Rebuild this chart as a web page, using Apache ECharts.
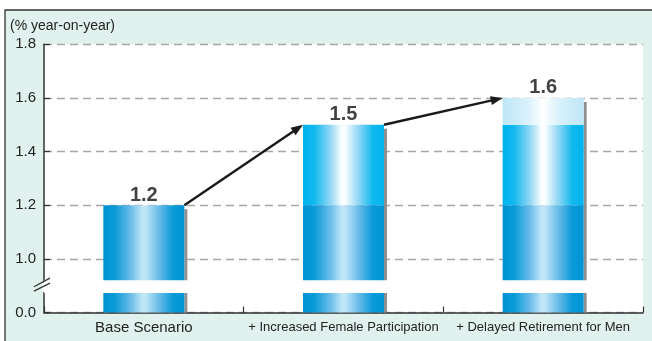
<!DOCTYPE html>
<html>
<head>
<meta charset="utf-8">
<script src="https://cdn.jsdelivr.net/npm/echarts@6/dist/echarts.min.js"></script>
<style>
  html, body { margin: 0; padding: 0; background: #fff; }
  #chart { width: 652px; height: 341px; }
</style>
</head>
<body>
<div id="chart"></div>
<script>
// Potential growth under three labour-supply scenarios (% year-on-year)
const categories = ['Base Scenario', '+ Increased Female Participation', '+ Delayed Retirement for Men'];
const totals = [1.2, 1.5, 1.6];
// stacked pieces: base growth, added by female participation, added by later retirement
const baseSegment = [1.2, 1.2, 1.2];
const femaleSegment = [null, 0.3, 0.3];
const retirementSegment = [null, null, 0.1];
// the axis is broken below 1.0; its floor is labelled 0.0
const axisFloor = 0.8;
const yTickLabels = { '0.8': '0.0', '1.0': '1.0', '1.2': '1.2', '1.4': '1.4', '1.6': '1.6', '1.8': '1.8' };
const breakBand = [0.873, 0.92];
// arrows: [from category, from value, to category, to value]
const arrows = [[0, 1.2, 1, 1.5], [1, 1.5, 2, 1.6]];

const FONT = "'Liberation Sans', Arial, Helvetica, sans-serif";
const BAR_W = 81;

function hGrad(stops) {
  return new echarts.graphic.LinearGradient(0, 0, 1, 0,
    stops.map(([o, c]) => ({ offset: o, color: c })));
}
const baseFill = hGrad([[0, '#0092d3'], [0.14, '#0a9ad8'], [0.34, '#6cbde9'], [0.48, '#bfe6f8'], [0.52, '#bfe6f8'], [0.68, '#6cbde9'], [0.86, '#0a9ad8'], [1, '#0094d5']]);
const femaleFill = hGrad([[0, '#00b3ed'], [0.14, '#12b9ee'], [0.34, '#94d8f5'], [0.48, '#fbfeff'], [0.52, '#fbfeff'], [0.68, '#94d8f5'], [0.86, '#12b9ee'], [1, '#00b4ed']]);
const retireFill = hGrad([[0, '#bde6f8'], [0.3, '#d8f1fb'], [0.5, '#ffffff'], [0.7, '#d8f1fb'], [1, '#bde6f8']]);

const chart = echarts.init(document.getElementById('chart'), null, { renderer: 'canvas' });

const option = {
  backgroundColor: '#ffffff',
  animation: false,
  textStyle: { fontFamily: FONT },
  title: {
    text: '(% year-on-year)',
    left: 10, top: 19, padding: 0,
    textStyle: { fontSize: 14, fontWeight: 'normal', color: '#222', fontFamily: FONT }
  },
  graphic: [{
    type: 'rect', z: -1, silent: true,
    shape: { x: 5, y: 10, width: 700, height: 400 },
    style: { fill: '#e1f2ee', stroke: '#333', lineWidth: 1.3 }
  }],
  grid: {
    left: 44, right: 9, top: 44.3, bottom: 28.5,
    show: true, backgroundColor: '#ffffff', borderWidth: 0
  },
  xAxis: {
    type: 'category',
    data: categories,
    axisLine: { lineStyle: { color: '#333', width: 1.5 } },
    axisTick: { show: true, inside: true, length: 6, lineStyle: { color: '#333', width: 1.2 } },
    axisLabel: {
      margin: 8, color: '#222', interval: 0, hideOverlap: false,
      formatter: (v, i) => (i === 0 ? '{b|' + v + '}' : '{s|' + v + '}'),
      rich: {
        b: { fontSize: 15, color: '#222', fontFamily: FONT },
        s: { fontSize: 13, color: '#222', fontFamily: FONT }
      }
    }
  },
  yAxis: {
    type: 'value',
    min: axisFloor, max: 1.8, interval: 0.2,
    axisLine: { show: true, lineStyle: { color: '#333', width: 1.5 } },
    axisTick: { show: true, inside: true, length: 6, lineStyle: { color: '#333', width: 1.2 } },
    axisLabel: {
      margin: 8, fontSize: 15, color: '#222',
      formatter: v => yTickLabels[v.toFixed(1)] || v.toFixed(1)
    },
    splitLine: { show: true, lineStyle: { color: '#a6a6a6', width: 1.4, type: [8, 5] } }
  },
  series: [
    {
      // grey edge down the right side of each column
      type: 'custom', z: 1, clip: false, silent: true,
      data: totals.map((v, i) => [i, v]),
      encode: { x: 0, y: 1 },
      renderItem(params, api) {
        const top = api.coord([api.value(0), api.value(1)]);
        const bottom = api.coord([api.value(0), axisFloor]);
        return {
          type: 'rect',
          shape: { x: top[0] + BAR_W / 2, y: top[1] + 4, width: 3, height: bottom[1] - top[1] - 4 },
          style: { fill: '#8f8f8f' }
        };
      }
    },
    {
      name: 'Base', type: 'bar', stack: 'growth', z: 2,
      barWidth: BAR_W, data: baseSegment,
      itemStyle: { color: baseFill }
    },
    {
      name: 'Female participation', type: 'bar', stack: 'growth', z: 2,
      barWidth: BAR_W, data: femaleSegment,
      itemStyle: { color: femaleFill }
    },
    {
      name: 'Delayed retirement', type: 'bar', stack: 'growth', z: 2,
      barWidth: BAR_W, data: retirementSegment,
      itemStyle: { color: retireFill },
      markArea: {
        z: 10, silent: true,
        itemStyle: { color: '#ffffff' },
        data: [[{ yAxis: breakBand[0] }, { yAxis: breakBand[1] }]]
      }
    },
    {
      // value labels above each column
      type: 'scatter', z: 6, silent: true,
      symbolSize: 0,
      data: totals.map((v, i) => [i, v]),
      label: {
        show: true, position: 'top', distance: 0,
        formatter: p => p.value[1].toFixed(1),
        fontSize: 20, fontWeight: 'bold', color: '#111', fontFamily: FONT
      }
    },
    {
      // arrows from one column top to the next
      type: 'custom', z: 7, clip: false, silent: true,
      data: arrows,
      encode: { x: [0, 2], y: [1, 3] },
      renderItem(params, api) {
        const a = api.coord([api.value(0), api.value(1)]);
        const b = api.coord([api.value(2), api.value(3)]);
        a[0] += BAR_W / 2;
        b[0] -= BAR_W / 2;
        const ang = Math.atan2(b[1] - a[1], b[0] - a[0]);
        const c = Math.cos(ang), s = Math.sin(ang);
        const L = 12, W = 4.5;
        const bx = b[0] - L * c, by = b[1] - L * s;
        return {
          type: 'group',
          children: [
            { type: 'line', shape: { x1: a[0], y1: a[1], x2: bx + c, y2: by + s }, style: { stroke: '#1a1a1a', lineWidth: 2.4 } },
            { type: 'polygon', shape: { points: [[b[0], b[1]], [bx - W * s, by + W * c], [bx + W * s, by - W * c]] }, style: { fill: '#1a1a1a' } }
          ]
        };
      }
    }
  ]
};

chart.setOption(option);

// axis break: blank the axis line through the gap and draw the double slash
const yTop = chart.convertToPixel({ yAxisIndex: 0 }, breakBand[1]);
const yBot = chart.convertToPixel({ yAxisIndex: 0 }, breakBand[0]);
const axisX = chart.convertToPixel({ xAxisIndex: 0 }, 0) - (chart.convertToPixel({ xAxisIndex: 0 }, 1) - chart.convertToPixel({ xAxisIndex: 0 }, 0)) / 2;
const mid = (yTop + yBot) / 2;
chart.setOption({
  graphic: [
    option.graphic[0],
    { type: 'rect', z: 20, silent: true, shape: { x: axisX - 2, y: yTop + 2, width: 4, height: yBot - yTop - 3 }, style: { fill: '#ffffff' } },
    { type: 'line', z: 21, silent: true, shape: { x1: axisX - 10, y1: mid + 4.5, x2: axisX + 6, y2: mid - 3.5 }, style: { stroke: '#333', lineWidth: 1.2 } },
    { type: 'line', z: 21, silent: true, shape: { x1: axisX - 10, y1: mid + 0.2, x2: axisX + 6, y2: mid - 8.5 }, style: { stroke: '#333', lineWidth: 1.2 } }
  ]
});
</script>
</body>
</html>
